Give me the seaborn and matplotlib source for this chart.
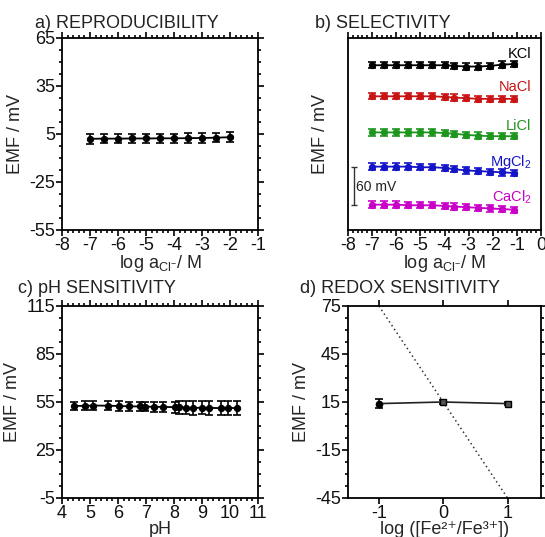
import numpy as np
import pandas as pd
import matplotlib
matplotlib.use("Agg")
import matplotlib.pyplot as plt
from matplotlib.ticker import AutoMinorLocator, MultipleLocator, NullLocator
import seaborn as sns

# a) reproducibility
rep_logcl = [-7, -6.5, -6, -5.5, -5, -4.5, -4, -3.5, -3, -2.5, -2]
rep_emf = [2.0, 2.1, 2.1, 2.2, 2.2, 2.3, 2.3, 2.4, 2.5, 2.7, 3.0]
rep_err = [3.0, 3.0, 3.0, 3.0, 3.0, 3.0, 3.0, 3.0, 3.0, 3.0, 3.0]

# b) selectivity (offset traces, mV on arbitrary baseline)
sel_logcl = [-7, -6.5, -6, -5.5, -5, -4.5, -4, -3.6, -3.1, -2.6, -2.1, -1.6, -1.1]
sel_names = ["KCl", "NaCl", "LiCl", "MgCl$_2$", "CaCl$_2$"]
sel_kcl = [260, 260, 260, 260, 260, 260, 260, 259, 258, 258, 259, 261, 262]
sel_nacl = [211, 211, 211, 211, 211, 211, 210, 209, 208, 207, 207, 207, 207]
sel_licl = [154, 154, 154, 154, 154, 154, 153, 152, 150, 149, 148, 148, 148]
sel_mgcl2 = [100, 100, 100, 100, 99, 99, 98, 96, 94, 93, 92, 91, 90]
sel_cacl2 = [40, 40, 40, 39, 39, 39, 38, 37, 36, 35, 34, 33, 32]
sel_err = 5
sel_colors = ["black", "#c81414", "#1e961e", "#1414c8", "#c800c8"]

# c) pH sensitivity
ph_vals = [4.44, 4.82, 5.12, 5.63, 6.04, 6.40, 6.79, 6.98, 7.30, 7.60,
           8.04, 8.19, 8.43, 8.67, 8.99, 9.25, 9.67, 9.94, 10.24]
ph_emf = [52.5, 52.6, 52.8, 52.7, 52.5, 52.3, 52.2, 52.1, 52.0, 51.9,
          51.8, 51.6, 51.5, 51.3, 51.4, 51.3, 51.2, 51.3, 51.2]
ph_err = [2.5, 2.8, 2.8, 2.8, 3.0, 3.0, 3.0, 3.0, 3.0, 3.0,
          3.5, 3.8, 4.0, 4.2, 4.2, 4.2, 4.5, 4.5, 4.5]

# d) redox sensitivity
redox_log = [-1, 0, 1]
redox_emf = [14.0, 15.0, 14.0]
redox_err = [3.0, 1.5, 1.0]
nernst_log = [-1, 1]
nernst_emf = [75, -45]

sns.set_style("ticks")
plt.rcParams["font.family"] = ["Liberation Sans", "DejaVu Sans"]
plt.rcParams["mathtext.default"] = "regular"
plt.rcParams["axes.unicode_minus"] = False
plt.rcParams["axes.linewidth"] = 1.3

fig = plt.figure(figsize=(5.45, 5.37), dpi=100)
W, H = 545, 537

def make_ax(l, t, r, b):
    return fig.add_axes([l / W, 1 - b / H, (r - l) / W, (b - t) / H])

def style_ticks(ax):
    ax.tick_params(which="both", direction="out", top=True, right=True,
                   labelsize=13, width=1.2, color="black", labelcolor="#111111",
                   pad=1)
    ax.tick_params(which="major", length=4)
    ax.tick_params(which="minor", length=2.5)
    for s in ax.spines.values():
        s.set_visible(True)
        s.set_color("black")

def set_yticks(ax, lo, hi):
    ax.set_ylim(lo, hi)
    ax.set_yticks(np.arange(lo, hi + 1, 30))
    ax.set_yticks(np.arange(lo, hi + 0.1, 7.5), minor=True)

def series(ax, x, y, err, color, marker="o", ms=4.5):
    df = pd.DataFrame({"x": x, "y": y})
    sns.lineplot(data=df, x="x", y="y", ax=ax, color=color, marker=marker,
                 markersize=ms, markeredgecolor=color, linewidth=1.3,
                 errorbar=None, sort=False)
    ax.errorbar(x, y, yerr=err, fmt="none", ecolor=color, elinewidth=1.2,
                capsize=3, capthick=1.2)

# panel a
ax = make_ax(62, 38, 258, 230)
series(ax, rep_logcl, rep_emf, rep_err, "black")
ax.set_xlim(-8, -1)
set_yticks(ax, -55, 65)
ax.xaxis.set_major_locator(MultipleLocator(1))
ax.xaxis.set_minor_locator(AutoMinorLocator(5))
style_ticks(ax)
ax.set_xlabel(r"log a$_{Cl^{-}}$/ M", fontsize=13, labelpad=-1)
ax.set_ylabel("EMF / mV", fontsize=13, labelpad=4)
fig.text(35 / W, 1 - 28 / H, "a) REPRODUCIBILITY", fontsize=13, color="#222222")

# panel b
ax = make_ax(348, 38, 541, 230)
sel_series = [sel_kcl, sel_nacl, sel_licl, sel_mgcl2, sel_cacl2]
for vals, col in zip(sel_series, sel_colors):
    series(ax, sel_logcl, vals, sel_err, col, ms=4.5)
ax.set_xlim(-8, 0)
ax.set_ylim(0, 303)
ax.xaxis.set_major_locator(MultipleLocator(1))
ax.xaxis.set_minor_locator(AutoMinorLocator(5))
style_ticks(ax)
ax.yaxis.set_major_locator(NullLocator())
ax.yaxis.set_minor_locator(NullLocator())
ax.set_xlabel(r"log a$_{Cl^{-}}$/ M", fontsize=13, labelpad=-1)
ax.set_ylabel("EMF / mV", fontsize=13, labelpad=14)
label_y = [277, 225, 164, 108, 51]
for name, col, ly in zip(sel_names, sel_colors, label_y):
    ax.text(-0.4, ly, name, color=col, fontsize=10.5, ha="right", va="center")
# 60 mV scale bar
ax.errorbar([-7.75], [70], yerr=[30], fmt="none", ecolor="#333333",
            elinewidth=1.0, capsize=2, capthick=1.0)
ax.text(-7.68, 68, "60 mV", fontsize=10, ha="left", va="center", color="#222222")
fig.text(315 / W, 1 - 28 / H, "b) SELECTIVITY", fontsize=13, color="#222222")

# panel c
ax = make_ax(62, 306, 258, 498)
series(ax, ph_vals, ph_emf, ph_err, "black")
ax.set_xlim(4, 11)
set_yticks(ax, -5, 115)
ax.xaxis.set_major_locator(MultipleLocator(1))
ax.xaxis.set_minor_locator(AutoMinorLocator(5))
style_ticks(ax)
ax.set_xlabel("pH", fontsize=13, labelpad=-1)
ax.set_ylabel("EMF / mV", fontsize=13, labelpad=4)
fig.text(18 / W, 1 - 293 / H, "c) pH SENSITIVITY", fontsize=13, color="#222222")

# panel d
ax = make_ax(348, 306, 541, 498)
sns.lineplot(x=nernst_log, y=nernst_emf, ax=ax, color="#333333",
             linestyle=(0, (1, 2)), linewidth=1.1, errorbar=None)
sns.lineplot(x=redox_log, y=redox_emf, ax=ax, color="#222222", linewidth=1.2,
             errorbar=None)
ax.errorbar(redox_log, redox_emf, yerr=redox_err, fmt="none", ecolor="black",
            elinewidth=1.2, capsize=3, capthick=1.2)
ax.plot(redox_log[:1], redox_emf[:1], "o", color="black", markersize=4.5)
ax.plot(redox_log[1:], redox_emf[1:], "s", color="black", markersize=4,
        markerfacecolor="#555555")
ax.set_xlim(-1.48, 1.52)
set_yticks(ax, -45, 75)
ax.xaxis.set_major_locator(MultipleLocator(1))
ax.xaxis.set_minor_locator(NullLocator())
style_ticks(ax)
ax.set_xlabel("log ([Fe²⁺/Fe³⁺])", fontsize=13, labelpad=-1)
ax.set_ylabel("EMF / mV", fontsize=13, labelpad=4)
fig.text(300 / W, 1 - 293 / H, "d) REDOX SENSITIVITY", fontsize=13, color="#222222")

fig.savefig("out.png", dpi=100)
